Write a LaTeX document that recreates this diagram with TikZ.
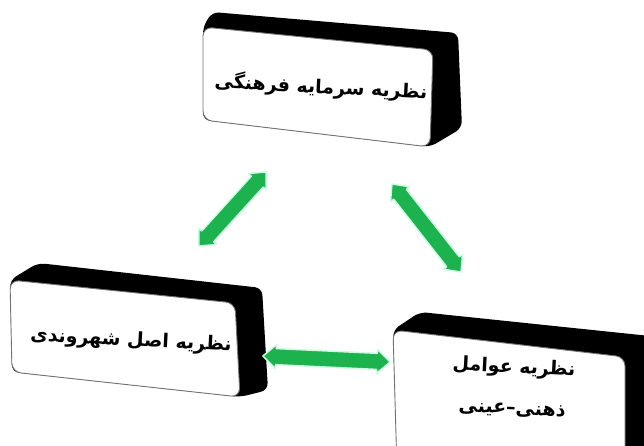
\documentclass[tikz,border=0pt]{standalone}
\usepackage{fontspec}
\usetikzlibrary{calc}
\TeXXeTstate=1
\newfontfamily\arabicfont[Script=Arabic,UprightFont=*,BoldFont=* Bold]{DejaVu Sans}
\definecolor{arrgreen}{RGB}{28,178,78}
\definecolor{arrdark}{RGB}{22,155,66}
\definecolor{arredge}{RGB}{205,250,228}
\newcommand\ahl{13pt}
\newcommand\ahw{12pt}
\newcommand\asw{8pt}
\newcommand\dbarrow[3]{%
\path[#3] (#1)
 -- ($($(#1)!\ahl!(#2)$)!\ahw!90:(#2)$)
 -- ($($(#1)!\ahl!(#2)$)!\asw!90:(#2)$)
 -- ($($(#2)!\ahl!(#1)$)!\asw!-90:(#1)$)
 -- ($($(#2)!\ahl!(#1)$)!\ahw!-90:(#1)$)
 -- (#2)
 -- ($($(#2)!\ahl!(#1)$)!\ahw!90:(#1)$)
 -- ($($(#2)!\ahl!(#1)$)!\asw!90:(#1)$)
 -- ($($(#1)!\ahl!(#2)$)!\asw!-90:(#2)$)
 -- ($($(#1)!\ahl!(#2)$)!\ahw!-90:(#2)$)
 -- cycle;}
\begin{document}
\begin{tikzpicture}[x=1pt,y=-1pt,
 bodyfill/.style={fill=black, rounded corners=7pt},
 facefill/.style={fill=white, draw=black!55, line width=0.9pt, rounded corners=9pt},
 boxtext/.style={font=\fontsize{19}{23}\selectfont\arabicfont\bfseries, inner sep=0pt},
 arrshade/.style={fill=arrdark, draw=arredge, line width=1.2pt, line join=round, xshift=4pt, yshift=3pt},
 arrface/.style={fill=arrgreen, draw=arredge, line width=1.4pt, line join=round}]
\useasboundingbox (0,0) rectangle (644,446);
\begin{scope}
\clip (0,0) rectangle (644,446);
% top box
\path[bodyfill] (203,27) -- (212,12) -- (458,33) -- (462,128) -- (430,147) -- (203,120) -- cycle;
\path[facefill] (203,27) -- (433,50) -- (430,147) -- (203,120) -- cycle;
\node[boxtext, rotate=-3] (top) at (321,87) {\beginR نظریه سرمایه فرهنگی\endR};
% left box
\path[bodyfill] (10,280) -- (38,263) -- (262,288) -- (268,390) -- (240,397) -- (12,372) -- cycle;
\path[facefill] (10,280) -- (235,303) -- (240,397) -- (12,372) -- cycle;
\node[boxtext, rotate=-3] (left) at (131,341) {\beginR نظریه اصل شهروندی\endR};
% right box
\path[bodyfill] (393,330) -- (420,312) -- (650,336) -- (650,460) -- (625,460) -- (397,460) -- cycle;
\path[facefill] (393,330) -- (625,357) -- (625,470) -- (397,470) -- cycle;
\node[boxtext, rotate=-3] (right1) at (514,368) {\beginR نظریه عوامل\endR};
\node[boxtext, rotate=-3] (right2) at (512,410) {\beginR ذهنی–عینی\endR};
\end{scope}
% arrows
\coordinate (a1s) at (266,172);
\coordinate (a1e) at (199,246);
\coordinate (a2s) at (392,184);
\coordinate (a2e) at (461,272);
\coordinate (a3s) at (263,356);
\coordinate (a3e) at (390,362);
\dbarrow{a1s}{a1e}{arrshade}
\dbarrow{a1s}{a1e}{arrface}
\dbarrow{a2s}{a2e}{arrshade}
\dbarrow{a2s}{a2e}{arrface}
\dbarrow{a3s}{a3e}{arrshade}
\dbarrow{a3s}{a3e}{arrface}
\end{tikzpicture}
\end{document}
